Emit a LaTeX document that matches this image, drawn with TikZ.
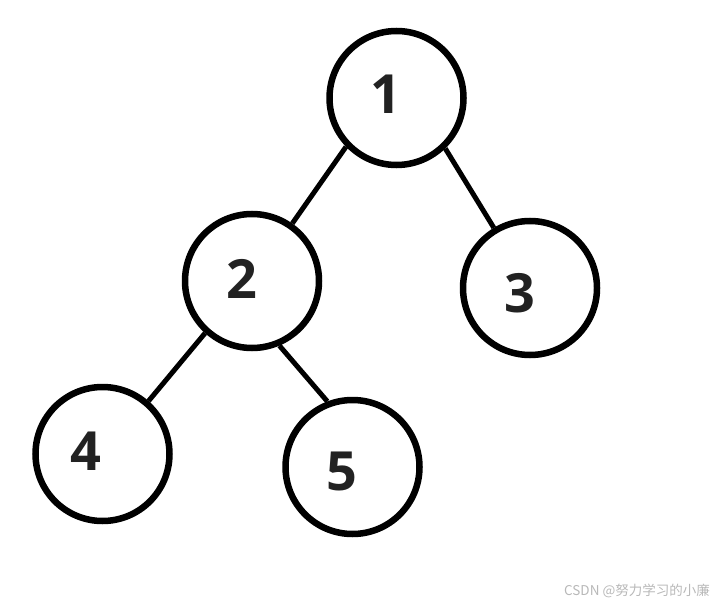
\documentclass[tikz,border=0pt]{standalone}
\usepackage{fontspec}
\setmainfont{Open Sans}
\newfontfamily\cjkfont{Noto Sans CJK SC}
\definecolor{digitgray}{HTML}{222222}
\definecolor{markgray}{HTML}{B8B8B8}
\tikzset{
  treenode/.style={circle, draw=black, line width=6.5pt, minimum size=134pt, inner sep=0pt},
  digit/.style={inner sep=0pt, text=digitgray, font=\fontsize{54}{54}\selectfont\bfseries},
  edge/.style={draw=black, line width=5pt}
}
\begin{document}
\begin{tikzpicture}[x=1pt, y=-1pt]
\useasboundingbox (0,0) rectangle (720,604);
\node[treenode] (n1) at (396.5,98) {};
\node[treenode] (n2) at (252,281) {};
\node[treenode] (n3) at (530,288) {};
\node[treenode] (n4) at (102.5,454) {};
\node[treenode] (n5) at (352.5,467) {};
\node[digit] (t1) at (386,94) {1};
\node[digit] (t2) at (242,279) {2};
\node[digit] (t3) at (520,293) {3};
\node[digit] (t4) at (86,451) {4};
\node[digit] (t5) at (342,471) {5};
\draw[edge] (n1.224.7) -- (n2.55.8);
\draw[edge] (n1.314) -- (n3.121);
\draw[edge] (n2.228) -- (n4.49.4);
\draw[edge] (n2.293.6) -- (n5.111.4);
\node[anchor=east, inner sep=0pt, text=markgray, font=\cjkfont\fontsize{13.5}{13.5}\selectfont] (wm) at (710,591) {CSDN @努力学习的小廉};
\end{tikzpicture}
\end{document}
